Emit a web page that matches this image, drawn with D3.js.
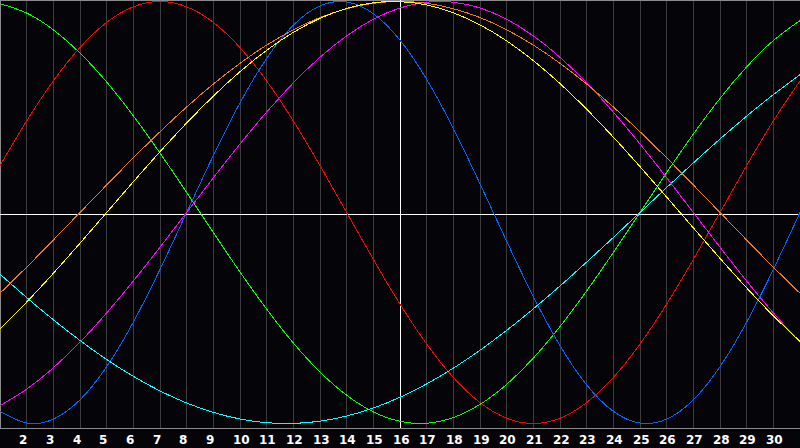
<!DOCTYPE html>
<html>
<head>
<meta charset="utf-8">
<script src="https://cdn.jsdelivr.net/npm/d3@7"></script>
<style>
  html, body { margin: 0; padding: 0; background: #050509; }
  svg { display: block; }
</style>
</head>
<body>
<svg id="chart" width="800" height="448"></svg>
<script>
// Days shown on the chart (day 1 at the left edge, day 31 at the right edge)
const days = d3.range(1, 32);
const tickDays = d3.range(2, 31);
const tickLabels = tickDays.map(String);
const markerDay = 16;

// Series values, one per day
const emotional = [0.2225,0.4339,0.6235,0.7818,0.9010,0.9749,1,0.9749,0.9010,0.7818,0.6235,0.4339,0.2225,0,-0.2225,-0.4339,-0.6235,-0.7818,-0.9010,-0.9749,-1,-0.9749,-0.9010,-0.7818,-0.6235,-0.4339,-0.2225,0,0.2225,0.4339,0.6235];
const intellectual = [0.9898,0.9450,0.8660,0.7557,0.6182,0.4582,0.2817,0.0951,-0.0951,-0.2817,-0.4582,-0.6182,-0.7557,-0.8660,-0.9450,-0.9898,-0.9989,-0.9718,-0.9096,-0.8146,-0.6901,-0.5406,-0.3717,-0.1893,0,0.1893,0.3717,0.5406,0.6901,0.8146,0.9096];
const physical = [-0.9423,-0.9977,-0.9791,-0.8879,-0.7308,-0.5196,-0.2698,0,0.2698,0.5196,0.7308,0.8879,0.9791,0.9977,0.9423,0.8170,0.6311,0.3984,0.1362,-0.1362,-0.3984,-0.6311,-0.8170,-0.9423,-0.9977,-0.9791,-0.8879,-0.7308,-0.5196,-0.2698,0];
const spiritual = [-0.2921,-0.4031,-0.5085,-0.6068,-0.6966,-0.7765,-0.8456,-0.9028,-0.9473,-0.9786,-0.9961,-0.9996,-0.9890,-0.9646,-0.9267,-0.8757,-0.8125,-0.7378,-0.6529,-0.5586,-0.4566,-0.3482,-0.2349,-0.1183,0,0.1183,0.2349,0.3482,0.4566,0.5586,0.6529];
const intuitive = [-0.9158,-0.8372,-0.7357,-0.6142,-0.4759,-0.3247,-0.1646,0,0.1646,0.3247,0.4759,0.6142,0.7357,0.8372,0.9158,0.9694,0.9966,0.9966,0.9694,0.9158,0.8372,0.7357,0.6142,0.4759,0.3247,0.1646,0,-0.1646,-0.3247,-0.4759,-0.6142];
const awareness = [-0.3827,-0.2588,-0.1305,0,0.1305,0.2588,0.3827,0.5,0.6088,0.7071,0.7934,0.8660,0.9239,0.9659,0.9914,1,0.9914,0.9659,0.9239,0.8660,0.7934,0.7071,0.6088,0.5,0.3827,0.2588,0.1305,0,-0.1305,-0.2588,-0.3827];
const aesthetic = [-0.5517,-0.4244,-0.2881,-0.1456,0,0.1456,0.2881,0.4244,0.5517,0.6673,0.7687,0.8536,0.9203,0.9675,0.9940,0.9993,0.9834,0.9464,0.8894,0.8133,0.7199,0.6112,0.4894,0.3573,0.2174,0.0730,-0.0730,-0.2174,-0.3573,-0.4894,-0.6112];

const seriesNames = ["emotional","intellectual","physical","spiritual","intuitive","awareness","aesthetic"];
const seriesValues = [emotional, intellectual, physical, spiritual, intuitive, awareness, aesthetic];
const seriesColors = ["#ff0000","#00ff00","#0064ff","#00ffff","#ff00ff","#f07818","#ffff00"];

const svg = d3.select("#chart");
const W = 800, plotBottom = 428;

const x = d3.scaleLinear().domain([1, 31]).range([0, W]);
const y = d3.scaleLinear().domain([-1, 1]).range([423.5, 1.5]);
const px = v => Math.floor(v) + 0.5;

svg.append("rect").attr("x", 0).attr("y", 0).attr("width", 800).attr("height", 448).attr("fill", "#050509");

// vertical day grid
svg.append("g").selectAll("line").data(tickDays).join("line")
  .attr("x1", d => px(x(d))).attr("x2", d => px(x(d)))
  .attr("y1", 0).attr("y2", plotBottom)
  .attr("stroke", "#3c3c3c").attr("stroke-width", 1)
  .attr("shape-rendering", "crispEdges");

// frame
const frame = svg.append("g").attr("stroke", "#8c8c8c").attr("stroke-width", 1).attr("shape-rendering", "crispEdges");
frame.append("line").attr("x1", 0).attr("x2", W).attr("y1", 0.5).attr("y2", 0.5);
frame.append("line").attr("x1", 0.5).attr("x2", 0.5).attr("y1", 0).attr("y2", plotBottom);
frame.append("line").attr("x1", 0).attr("x2", W).attr("y1", plotBottom + 0.5).attr("y2", plotBottom + 0.5);

// zero line and today marker
svg.append("line").attr("x1", 0).attr("x2", W).attr("y1", 214.5).attr("y2", 214.5)
  .attr("stroke", "#ffffff").attr("shape-rendering", "crispEdges");
svg.append("line").attr("x1", px(x(markerDay))).attr("x2", px(x(markerDay))).attr("y1", 0).attr("y2", plotBottom)
  .attr("stroke", "#ffffff").attr("shape-rendering", "crispEdges");

// curves
const line = d3.line().x((d, i) => x(days[i])).y(d => y(d)).curve(d3.curveNatural);
svg.append("g").selectAll("path").data(seriesValues).join("path")
  .attr("d", d => line(d))
  .attr("fill", "none")
  .attr("stroke", (d, i) => seriesColors[i])
  .attr("stroke-width", 1)
  .attr("shape-rendering", "crispEdges");

// day labels
svg.append("g").selectAll("text").data(tickDays).join("text")
  .attr("x", d => Math.floor(x(d)) - 7)
  .attr("y", 444)
  .attr("fill", "#ffffff")
  .attr("font-family", "'DejaVu Sans', sans-serif")
  .attr("font-weight", "bold")
  .attr("font-size", "12px")
  .text((d, i) => tickLabels[i]);
</script>
</body>
</html>
